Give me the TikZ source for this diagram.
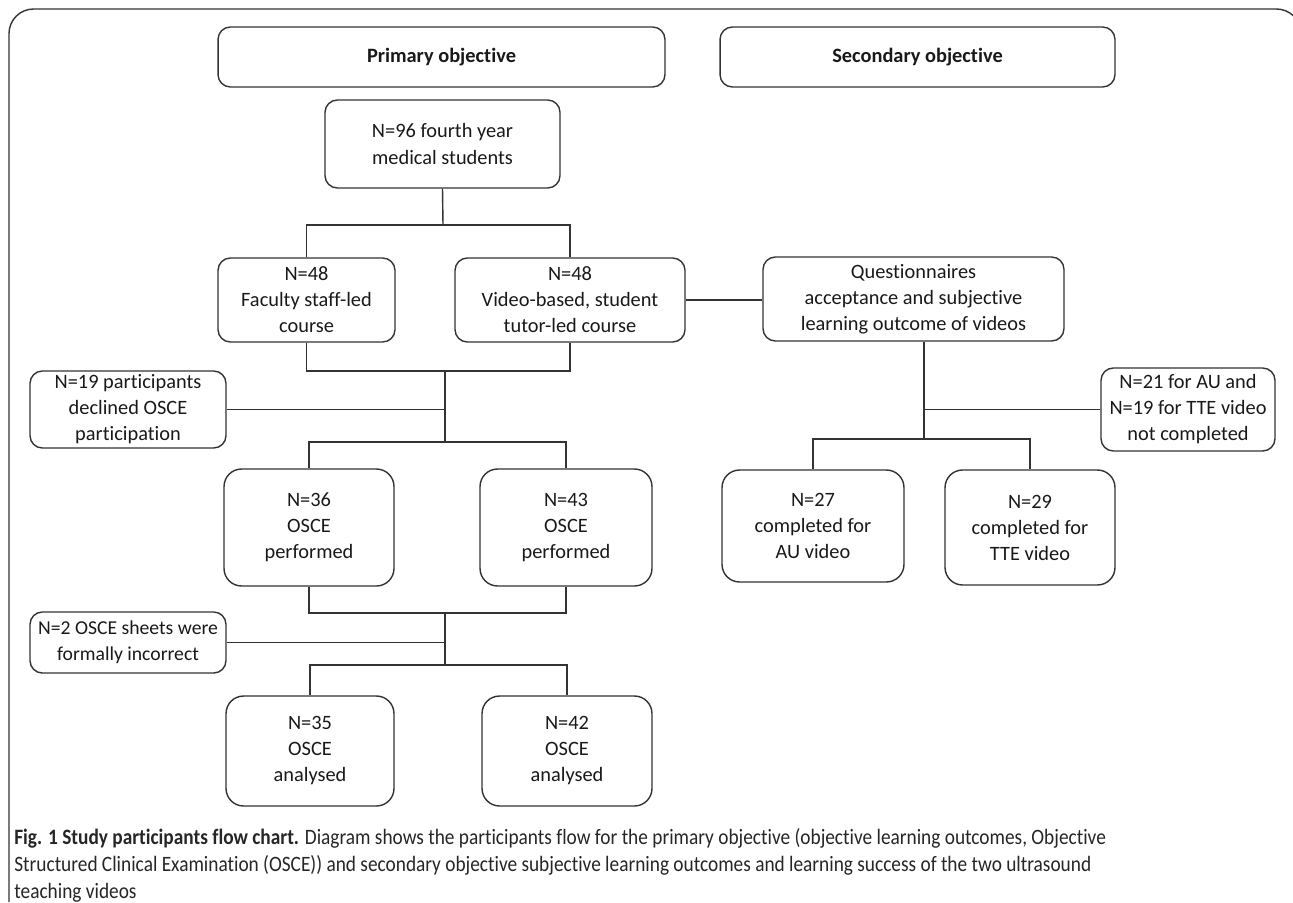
\documentclass[tikz,border=0pt]{standalone}
\usepackage{fontspec}
\setmainfont{Carlito}[Ligatures=NoCommon]
\newfontfamily\capfont[FakeStretch=0.88, Ligatures=NoCommon]{Carlito}
\usetikzlibrary{calc}

\begin{document}
\begin{tikzpicture}[x=0.02cm, y=-0.02cm,
  box/.style={draw=black!80, line width=0.8pt, rounded corners=7pt, align=center, inner sep=0pt,
    font=\fontsize{11.6}{14.8}\selectfont, text=black!90},
  tall/.style={box, rounded corners=10pt},
  link/.style={draw=black!80, line width=0.8pt}]
  \useasboundingbox (0,0) rectangle (1293,902);
  % frame
  \draw[black!80, line width=0.8pt, rounded corners=14] (9,902) -- (9,9) -- (1301,9) -- (1301,60);

  % objectives
  \node[box, minimum width=8.94cm, minimum height=1.2cm] (prim) at (441.5,57) {\textbf{Primary objective}};
  \node[box, minimum width=7.9cm, minimum height=1.2cm] (sec) at (917.5,57) {\textbf{Secondary objective}};

  % primary objective
  \node[box, minimum width=4.7cm, minimum height=1.76cm] (all) at (442.5,144) {N=96 fourth year\\medical students};
  \node[box, minimum width=3.54cm, minimum height=1.68cm] (fac) at (306.5,300) {N=48\\Faculty staff-led\\course};
  \node[box, minimum width=4.6cm, minimum height=1.68cm] (vid) at (570,300) {N=48\\Video-based, student\\tutor-led course};
  \node[box, minimum width=3.92cm, minimum height=1.54cm] (decl) at (128,409.5) {N=19 participants\\declined OSCE\\participation};
  \node[tall, minimum width=3.4cm, minimum height=2.34cm] (n36) at (309,527.5) {N=36\\OSCE\\performed};
  \node[tall, minimum width=3.44cm, minimum height=2.34cm] (n43) at (566,527.5) {N=43\\OSCE\\performed};
  \node[box, minimum width=3.92cm, minimum height=1.22cm, font=\fontsize{11.2}{14.8}\selectfont] (incor) at (128,642.5) {N=2 OSCE sheets were\\formally incorrect};
  \node[tall, minimum width=3.36cm, minimum height=2.2cm] (n35) at (310,751) {N=35\\OSCE\\analysed};
  \node[tall, minimum width=3.4cm, minimum height=2.2cm] (n42) at (567,751) {N=42\\OSCE\\analysed};

  % secondary objective
  \node[box, minimum width=6.02cm, minimum height=1.68cm] (quest) at (913.5,299) {Questionnaires\\acceptance and subjective\\learning outcome of videos};
  \node[box, minimum width=3.48cm, minimum height=1.66cm] (notc) at (1188,409.5) {N=21 for AU and\\N=19 for TTE video\\not completed};
  \node[tall, minimum width=3.64cm, minimum height=2.24cm] (n27) at (813,526) {N=27\\completed for\\AU video};
  \node[tall, minimum width=3.4cm, minimum height=2.3cm] (n29) at (1030,527.5) {N=29\\completed for\\TTE video};

  % connectors
  \coordinate (j1) at (443,225);
  \draw[link] (all.south) -- (j1); \draw[link] (fac.north) |- (j1) -| (vid.north);
  \draw[link] (vid.east) -- (vid.east -| quest.west);
  \coordinate (j2) at (445,371); \coordinate (j3) at (445,442);
  \draw[link] (fac.south) |- (j2) -| (vid.south); \draw[link] (j2) -- (j3);
  \draw[link] (decl.east) -- (decl.east -| j2);
  \draw[link] (n36.north) |- (j3) -| (n43.north);
  \coordinate (j4) at (445,613); \coordinate (j5) at (445,665);
  \draw[link] (n36.south) |- (j4) -| (n43.south); \draw[link] (j4) -- (j5);
  \draw[link] (incor.east) -- (incor.east -| j4);
  \draw[link] (n35.north) |- (j5) -| (n42.north);
  \coordinate (q1) at (924,439);
  \draw[link] (quest.south -| q1) -- (q1);
  \draw[link] (notc.west) -- (notc.west -| q1);
  \draw[link] (n27.north) |- (q1) -| (n29.north);

  % caption
  \node[anchor=north west, inner sep=0pt, align=left, text=black!85,
    font=\capfont\fontsize{12.5}{15.3}\selectfont] (cap) at (14,828)
    {\textbf{Fig. 1 Study participants flow chart.} Diagram shows the participants flow for the primary objective (objective learning outcomes, Objective\\
     Structured Clinical Examination (OSCE)) and secondary objective subjective learning outcomes and learning success of the two ultrasound\\
     teaching videos};
\end{tikzpicture}
\end{document}
